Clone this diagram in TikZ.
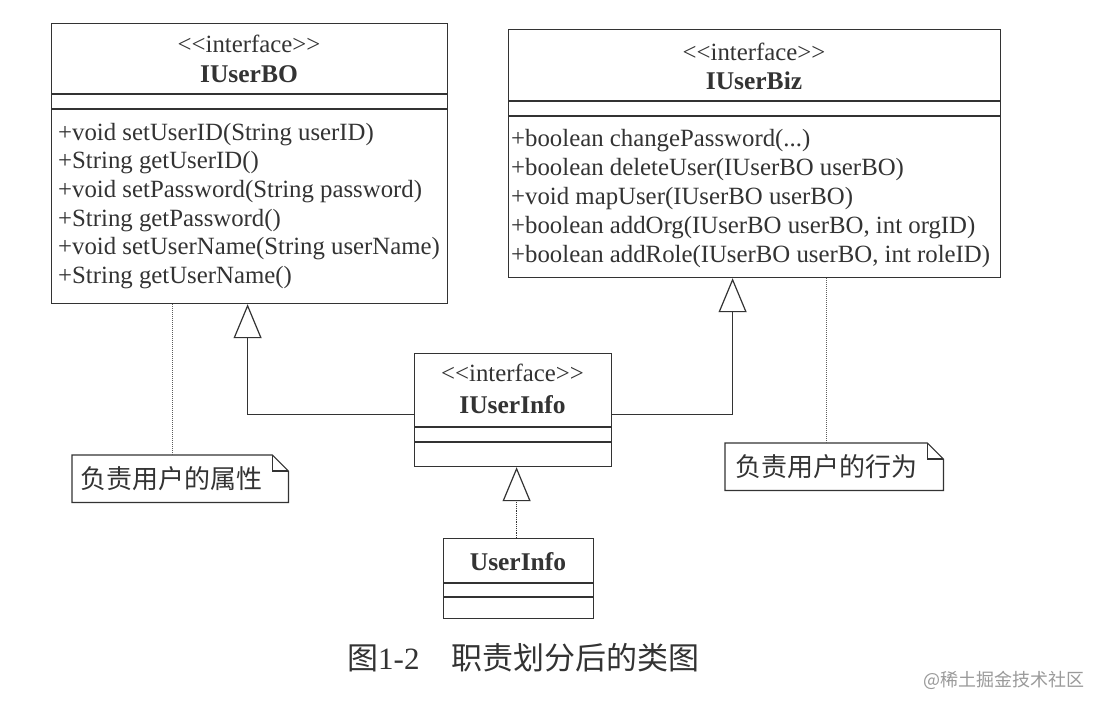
\documentclass[tikz,border=0pt]{standalone}
\usepackage{fontspec}
\setmainfont{Liberation Serif}
\newfontfamily\cjk{Noto Sans CJK SC}
\usetikzlibrary{arrows.meta}
\definecolor{ink}{HTML}{333333}
\definecolor{wm}{HTML}{9A9A9A}
\newcommand{\stereotxt}{\textless\kern0pt\textless interface\textgreater\kern0pt\textgreater}
\begin{document}
\begin{tikzpicture}[x=1pt,y=-1pt,
  umlbox/.style={draw=ink, line width=1.2pt, rectangle, inner sep=0pt, anchor=north west},
  sepline/.style={draw=ink, line width=1.2pt},
  meth/.style={anchor=base west, inner sep=0pt, text=ink, font=\fontsize{24.8}{29}\selectfont},
  stereo/.style={anchor=base, inner sep=0pt, text=ink, font=\fontsize{24.8}{29}\selectfont},
  cname/.style={anchor=base, inner sep=0pt, text=ink, font=\fontsize{25.5}{29}\selectfont\bfseries},
  gen/.style={draw=ink, line width=1.2pt, -{Triangle[open, length=34pt, width=28pt]}},
  realize/.style={gen, densely dotted},
  notelink/.style={draw=ink!80, line width=1pt, densely dotted},
  notebox/.style={rectangle, anchor=north west, align=left, text=ink, font=\cjk\fontsize{26}{30}\selectfont},
  noteline/.style={draw=ink, line width=1.2pt, line join=miter}
]
\fill[white] (0,0) rectangle (1104,710);
\useasboundingbox (0,0) rectangle (1104,710);

% ---------- IUserBO ----------
\node[umlbox, minimum width=396pt, minimum height=280pt] (bo) at (51,23) {};
\draw[sepline] (51,94) -- (447,94);
\draw[sepline] (51,109) -- (447,109);
\node[stereo] (bost) at (249,52) {\stereotxt};
\node[cname] (boname) at (249,82) {IUserBO};
\node[meth] (bo1) at (58,140) {+void setUserID(String userID)};
\node[meth] (bo2) at (58,168.7) {+String getUserID()};
\node[meth] (bo3) at (58,197.4) {+void setPassword(String password)};
\node[meth] (bo4) at (58,226.1) {+String getPassword()};
\node[meth] (bo5) at (58,254.8) {+void setUserName(String userName)};
\node[meth] (bo6) at (58,283.5) {+String getUserName()};

% ---------- IUserBiz ----------
\node[umlbox, minimum width=492pt, minimum height=248pt] (biz) at (508,29) {};
\draw[sepline] (508,101) -- (1000,101);
\draw[sepline] (508,116) -- (1000,116);
\node[stereo] (bizst) at (754,60) {\stereotxt};
\node[cname] (bizname) at (754,89) {IUserBiz};
\node[meth] (biz1) at (511,146) {+boolean changePassword(...)};
\node[meth] (biz2) at (511,175.2) {+boolean deleteUser(IUserBO userBO)};
\node[meth] (biz3) at (511,204.4) {+void mapUser(IUserBO userBO)};
\node[meth] (biz4) at (511,233.6) {+boolean addOrg(IUserBO userBO, int orgID)};
\node[meth] (biz5) at (511,262.8) {+boolean addRole(IUserBO userBO, int roleID)};

% ---------- IUserInfo ----------
\node[umlbox, minimum width=197pt, minimum height=113pt] (info) at (414,353) {};
\draw[sepline] (414,427) -- (611,427);
\draw[sepline] (414,442) -- (611,442);
\node[stereo] (infost) at (512.5,381) {\stereotxt};
\node[cname] (infoname) at (512.5,413) {IUserInfo};

% ---------- UserInfo ----------
\node[umlbox, minimum width=150pt, minimum height=80pt] (ui) at (443,538) {};
\draw[sepline] (443,583) -- (593,583);
\draw[sepline] (443,597) -- (593,597);
\node[cname] (uiname) at (518,570) {UserInfo};

% ---------- generalisation / realisation ----------
\draw[gen] ([yshift=-4.5pt]info.west) -| ([xshift=-2pt]bo.south);
\draw[gen] ([yshift=-4.5pt]info.east) -| ([xshift=-22pt]biz.south);
\coordinate (uitop) at ([xshift=-2pt]ui.north);
\draw[realize] (uitop) -- (uitop |- info.south);

% ---------- notes ----------
\node[notebox, minimum width=216pt, minimum height=47pt, inner xsep=8pt, text width=200pt] (n1) at (72,455) {负责用户的属性};
\draw[noteline] (n1.north west) -- ([xshift=-16pt]n1.north east) -- ([yshift=-16pt]n1.north east) -- (n1.south east) -- (n1.south west) -- cycle;
\draw[noteline] ([xshift=-16pt]n1.north east) -- ([xshift=-16pt,yshift=-16pt]n1.north east) -- ([yshift=-16pt]n1.north east);
\node[notebox, minimum width=218pt, minimum height=47pt, inner xsep=10pt, text width=198pt] (n2) at (725,443) {负责用户的行为};
\draw[noteline] (n2.north west) -- ([xshift=-16pt]n2.north east) -- ([yshift=-16pt]n2.north east) -- (n2.south east) -- (n2.south west) -- cycle;
\draw[noteline] ([xshift=-16pt]n2.north east) -- ([xshift=-16pt,yshift=-16pt]n2.north east) -- ([yshift=-16pt]n2.north east);

\coordinate (n1top) at ([xshift=-8pt]n1.north);
\draw[notelink] (n1top |- bo.south) -- (n1top);
\coordinate (n2top) at ([xshift=-8pt]n2.north);
\draw[notelink] (n2top |- biz.south) -- (n2top);

% ---------- caption & watermark ----------
\node[anchor=base west, inner sep=0pt, text=ink] (cap) at (347,669)
  {{\cjk\fontsize{31}{36}\selectfont 图}{\fontsize{31}{36}\selectfont 1-2}\hspace{32pt}{\cjk\fontsize{31}{36}\selectfont 职责划分后的类图}};
\node[anchor=base west, inner sep=0pt, text=wm, font=\cjk\fontsize{18}{22}\selectfont] (wmk) at (923,686) {@稀土掘金技术社区};
\end{tikzpicture}
\end{document}
